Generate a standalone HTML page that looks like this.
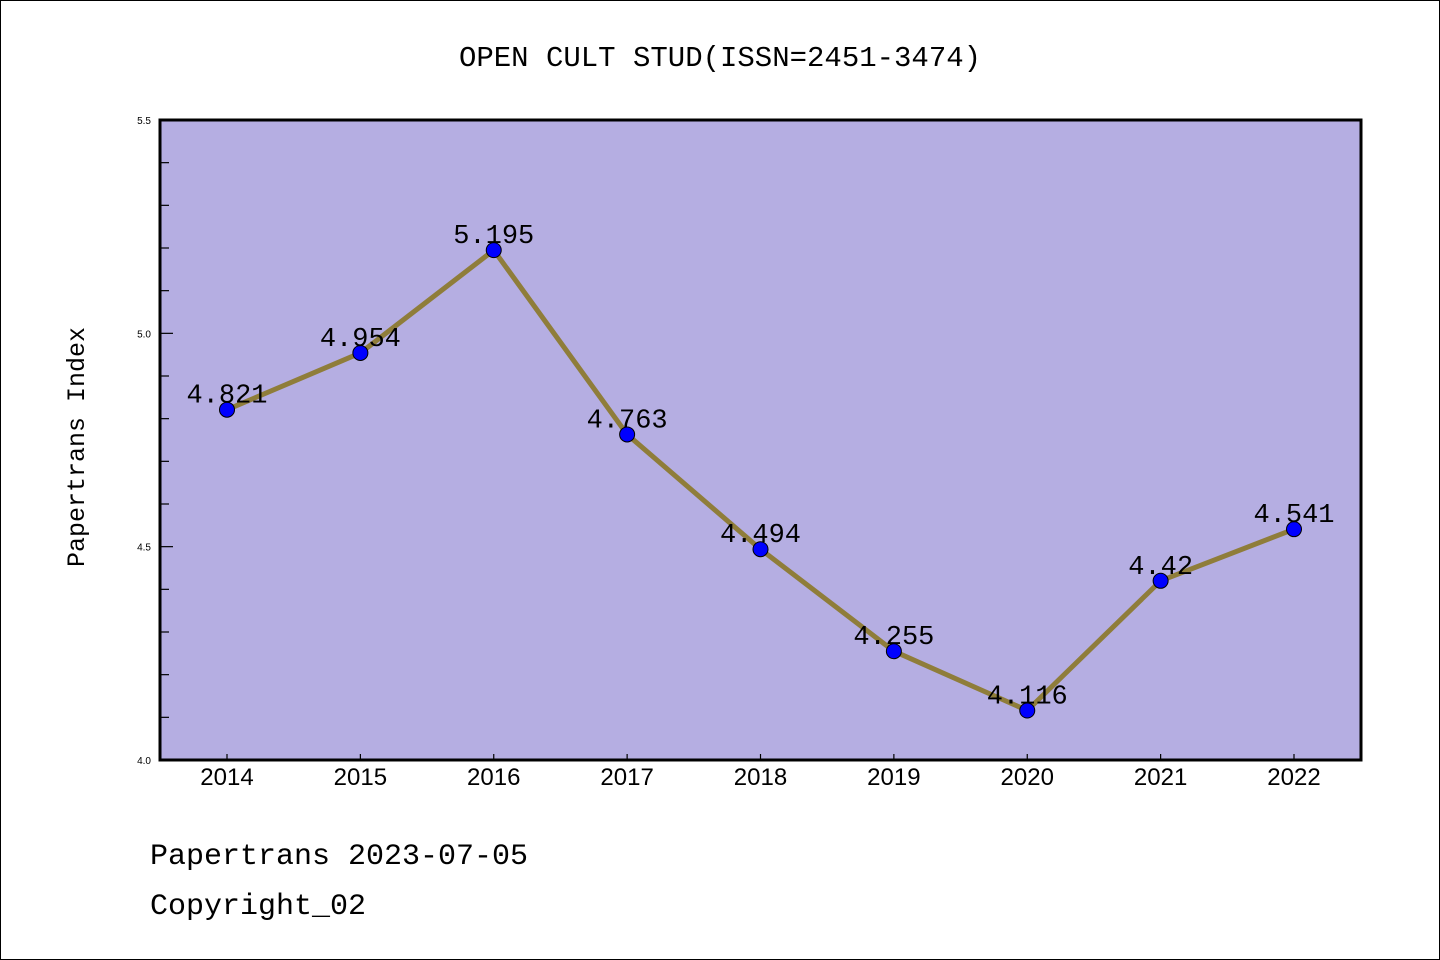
<!DOCTYPE html>
<html><head><meta charset="utf-8"><style>
html,body{margin:0;padding:0;background:#fff}
svg{display:block}
text{font-family:"Liberation Mono","Noto Sans Mono CJK SC",monospace;fill:#000}
</style></head><body>
<svg id="chart" width="1440" height="960" xmlns="http://www.w3.org/2000/svg">
<rect x="0.5" y="0.5" width="1439" height="959" fill="#fff" stroke="#000" stroke-width="1"/>
<text x="720" y="66" text-anchor="middle" font-size="29">OPEN CULT STUD(ISSN=2451-3474)</text>
<rect x="160" y="120" width="1201" height="640" fill="#b5aee2"/>
<g id="axes"></g>
<g id="series"></g>
<rect x="160" y="120" width="1201" height="640" fill="none" stroke="#000" stroke-width="3"/>
<text transform="translate(84,447) rotate(-90)" text-anchor="middle" font-size="25">Papertrans Index</text>
<text x="150" y="864" font-size="30">Papertrans 2023-07-05</text>
<text x="150" y="914" font-size="30">Copyright_02</text>
</svg>
<script>
const years = ["2014","2015","2016","2017","2018","2019","2020","2021","2022"];
const values = [4.821,4.954,5.195,4.763,4.494,4.255,4.116,4.42,4.541];
const valueLabels = ["4.821","4.954","5.195","4.763","4.494","4.255","4.116","4.42","4.541"];
const yTicks = ["4.0","4.5","5.0","5.5"];
const yMin=4.0,yMax=5.5;
const NS="http://www.w3.org/2000/svg";
function xs(i){return 227+i*(1294-227)/(years.length-1);}
function ys(v){return 760-(v-yMin)/(yMax-yMin)*640;}
function mk(t,a,p){const e=document.createElementNS(NS,t);for(const k in a)e.setAttribute(k,a[k]);p.appendChild(e);return e;}
const ax=document.getElementById('axes'), se=document.getElementById('series');
for(let v=4.0;v<=5.5001;v+=0.1){
  const major=Math.abs(v*2-Math.round(v*2))<1e-6;
  const t=mk('line',{x1:160,x2:160+(major?13:9),y1:ys(v),y2:ys(v),stroke:'#000','stroke-width':1.2},ax);
  
  
}
yTicks.forEach(s=>{
  const t=mk('text',{x:151,y:ys(parseFloat(s))+4,'text-anchor':'end','font-size':10,style:'font-family:"Liberation Sans",sans-serif'},ax);
  t.textContent=s;
  
  
});
years.forEach((y,i)=>{
  const t=mk('line',{x1:xs(i),x2:xs(i),y1:760,y2:754,stroke:'#000','stroke-width':1.2},ax);
  
  
  const l=mk('text',{x:xs(i),y:785,'text-anchor':'middle','font-size':24,style:'font-family:"Liberation Sans",sans-serif'},ax);
  l.textContent=y;
  
  
});
const line=mk('polyline',{points:values.map((v,i)=>xs(i)+','+ys(v)).join(' '),fill:'none',stroke:'#8f7d3a','stroke-width':5,'stroke-linejoin':'round'},se);


values.forEach((v,i)=>{
  const c=mk('circle',{cx:xs(i),cy:ys(v),r:7.5,fill:'#0000ff',stroke:'#000','stroke-width':1},se);
  
  
  const t=mk('text',{x:xs(i),y:ys(v)-7,'text-anchor':'middle','font-size':27},se);
  t.textContent=valueLabels[i];
  
  
});
</script>
</body></html>
